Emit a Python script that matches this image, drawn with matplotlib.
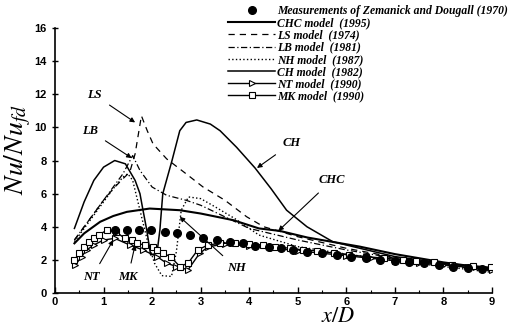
import numpy as np
import matplotlib
matplotlib.use("Agg")
import matplotlib.pyplot as plt
from matplotlib.ticker import MultipleLocator

plt.rcParams['mathtext.fontset'] = 'stix'

# measurements (filled circles)
meas_x = [1.23, 1.48, 1.72, 1.98, 2.26, 2.52, 2.78, 3.04, 3.34, 3.6, 3.87, 4.12,
          4.4, 4.65, 4.9, 5.2, 5.5, 5.8, 6.1, 6.4, 6.7, 7.0, 7.3, 7.6, 7.9, 8.2, 8.5, 8.8]
meas_y = [3.8, 3.8, 3.8, 3.8, 3.7, 3.6, 3.5, 3.3, 3.2, 3.1, 3.0, 2.85,
          2.75, 2.7, 2.6, 2.5, 2.4, 2.3, 2.2, 2.1, 2.0, 1.95, 1.85, 1.8, 1.7, 1.6, 1.5, 1.45]

# CHC model (1995)
chc_x = [0.4, 0.6, 0.93, 1.2, 1.48, 1.95, 2.57, 3.0, 3.67, 4.2, 4.63, 5.2, 6.28, 7.0, 8.0, 9.0]
chc_y = [3.0, 3.6, 4.3, 4.65, 4.9, 5.1, 5.0, 4.8, 4.4, 3.9, 3.75, 3.35, 2.8, 2.35, 1.85, 1.45]

# LS model (1974)
ls_x = [0.4, 0.6, 0.8, 1.0, 1.2, 1.4, 1.54, 1.65, 1.78, 1.9, 2.02, 2.3, 2.7, 3.05, 3.5, 3.95,
        4.3, 5.0, 6.0, 7.0, 8.0, 9.0]
ls_y = [3.2, 4.0, 4.8, 5.6, 6.3, 6.9, 7.3, 8.4, 10.7, 9.8, 9.0, 8.1, 7.2, 6.4, 5.6, 4.6,
        4.0, 3.4, 2.7, 2.15, 1.7, 1.35]

# LB model (1981)
lb_x = [0.4, 0.6, 0.8, 1.0, 1.2, 1.4, 1.6, 1.75, 2.0, 2.3, 2.7, 3.0, 3.5, 4.0, 5.0, 6.0, 7.0, 8.0, 9.0]
lb_y = [3.2, 4.0, 4.8, 5.6, 6.4, 7.2, 8.3, 7.4, 6.4, 5.9, 5.6, 5.3, 4.6, 3.9, 3.2, 2.6, 2.1, 1.7, 1.35]

# NH model (1987)
nh_x = [0.4, 0.6, 0.8, 1.0, 1.2, 1.4, 1.5, 1.6, 1.75, 1.9, 2.05, 2.2, 2.4, 2.5, 2.6, 2.75,
        3.0, 3.3, 3.7, 4.2, 5.0, 6.0, 7.0, 8.0, 9.0]
nh_y = [3.1, 3.9, 4.7, 5.5, 6.3, 7.0, 7.2, 6.8, 5.0, 3.2, 1.8, 1.05, 1.0, 2.5, 5.0, 5.8,
        5.7, 5.2, 4.5, 3.5, 2.8, 2.35, 1.95, 1.6, 1.25]

# CH model (1982)
ch_x = [0.4, 0.6, 0.8, 1.0, 1.23, 1.45, 1.65, 1.75, 1.8, 1.89, 1.97, 2.1, 2.16, 2.22, 2.41,
        2.57, 2.7, 2.92, 3.2, 3.4, 3.74, 4.12, 4.45, 4.77, 5.19, 5.72, 6.28, 7.0, 8.0, 9.0]
ch_y = [3.9, 5.5, 6.8, 7.6, 8.0, 7.8, 6.8, 6.0, 5.2, 3.8, 2.3, 2.4, 3.8, 6.0, 8.0,
        9.8, 10.3, 10.45, 10.2, 9.8, 8.8, 7.55, 6.3, 5.0, 4.0, 3.1, 2.7, 2.2, 1.8, 1.5]

# NT model (1990)
nt_x = [0.42, 0.55, 0.65, 0.8, 1.0, 1.23, 1.54, 1.81, 2.1, 2.3, 2.5, 2.74, 2.98, 3.16,
        3.5, 4.0, 4.5, 5.0, 5.5, 6.0, 6.5, 7.0, 7.5, 8.0, 8.5, 9.0]
nt_y = [1.7, 2.2, 2.6, 2.9, 3.2, 3.3, 2.9, 2.6, 2.2, 1.8, 1.6, 1.4, 2.4, 2.8,
        2.95, 2.85, 2.7, 2.55, 2.4, 2.25, 2.1, 1.95, 1.8, 1.7, 1.55, 1.4]

# MK model (1990)
mk_x = [0.4, 0.5, 0.6, 0.7, 0.8, 0.9, 1.07, 1.25, 1.44, 1.58, 1.68, 1.85, 2.02, 2.1, 2.22,
        2.38, 2.57, 2.74, 2.94, 3.15, 3.4, 3.7, 4.0, 4.28, 4.53, 4.84, 5.1, 5.4, 5.75,
        6.06, 6.4, 6.78, 7.16, 7.43, 7.8, 8.18, 8.6, 8.98]
mk_y = [2.0, 2.4, 2.8, 3.1, 3.3, 3.5, 3.8, 3.7, 3.3, 3.2, 3.0, 2.9, 2.8, 2.6, 2.4,
        2.2, 1.6, 1.8, 2.6, 2.9, 3.0, 3.0, 2.95, 2.9, 2.8, 2.7, 2.6, 2.55, 2.4,
        2.3, 2.2, 2.1, 2.0, 1.95, 1.85, 1.7, 1.65, 1.55]

fig = plt.figure(figsize=(5.13, 3.26), dpi=100)
ax = fig.add_axes([0.1072, 0.1012, 0.8518, 0.8128])

ax.plot(meas_x, meas_y, 'o', color='black', ms=5.5, zorder=5,
        label='Measurements of Zemanick and Dougall (1970)')
ax.plot(chc_x, chc_y, '-', color='black', lw=1.5, label='CHC model  (1995)')
ax.plot(ls_x, ls_y, '--', color='black', lw=0.9, dashes=(5, 4), label='LS model  (1974)')
ax.plot(lb_x, lb_y, '-.', color='black', lw=0.9, dashes=(5, 2, 1, 2), label='LB model  (1981)')
ax.plot(nh_x, nh_y, ':', color='black', lw=1.0, label='NH model  (1987)')
ax.plot(ch_x, ch_y, '-', color='black', lw=1.1, label='CH model  (1982)')
ax.plot(nt_x, nt_y, '-', color='black', lw=1.0, marker='>', ms=4, mfc='white', mec='black',
        mew=0.8, label='NT model  (1990)')
ax.plot(mk_x, mk_y, '-', color='black', lw=1.0, marker='s', ms=5, mfc='white', mec='black',
        mew=0.8, label='MK model  (1990)')

ax.set_xlim(0, 9)
ax.set_ylim(0, 16)
ax.xaxis.set_major_locator(MultipleLocator(1))
ax.xaxis.set_minor_locator(MultipleLocator(0.5))
ax.yaxis.set_major_locator(MultipleLocator(2))
for s in ['top', 'right']:
    ax.spines[s].set_visible(False)
ax.spines['left'].set_linewidth(1.2)
ax.spines['bottom'].set_linewidth(1.2)
ax.tick_params(axis='x', which='major', direction='in', length=4, width=1, pad=3)
ax.tick_params(axis='x', which='minor', direction='in', length=2.5, width=0.8)
ax.tick_params(axis='y', which='major', direction='inout', length=5, width=1)
for lab in ax.get_xticklabels() + ax.get_yticklabels():
    lab.set_fontweight('bold')
    lab.set_fontsize(8)
    lab.set_family('Liberation Sans')

# annotations
ann = dict(family='Liberation Serif', style='italic', fontweight='bold', fontsize=9,
           ha='center', va='center')
arr = dict(arrowstyle='-|>', lw=0.8, color='black', mutation_scale=7, shrinkA=4, shrinkB=0)
ax.annotate('LS', xy=(1.65, 10.3), xytext=(0.82, 11.95), arrowprops=arr, **ann)
ax.annotate('LB', xy=(1.58, 8.15), xytext=(0.72, 9.8), arrowprops=arr, **ann)
ax.annotate('CH', xy=(4.16, 7.55), xytext=(4.88, 9.05), arrowprops=arr, **ann)
ax.annotate('CHC', xy=(4.6, 3.75), xytext=(5.7, 6.8), arrowprops=arr, **ann)
ax.annotate('NH', xy=(2.57, 4.6), xytext=(3.74, 1.5), arrowprops=arr, **ann)
ax.annotate('NT', xy=(1.2, 3.2), xytext=(0.76, 0.95), arrowprops=arr, **ann)
ax.annotate('MK', xy=(1.65, 2.9), xytext=(1.5, 0.95), arrowprops=arr, **ann)

fig.text(0.035, 0.54, r'$Nu/Nu_{fd}$', rotation=90, fontsize=20, ha='center', va='center')
fig.text(0.66, 0.0, r'$x/D$', fontsize=16, ha='center', va='bottom')

ax.legend(loc='upper left', bbox_to_anchor=(0.445, 0.985), bbox_transform=fig.transFigure,
          frameon=False, handlelength=4.0, handletextpad=0.15, labelspacing=0.02,
          borderaxespad=0, borderpad=0,
          prop=dict(family='Liberation Serif', style='italic', weight='bold', size=8.4))

fig.savefig('out.png', dpi=100)
